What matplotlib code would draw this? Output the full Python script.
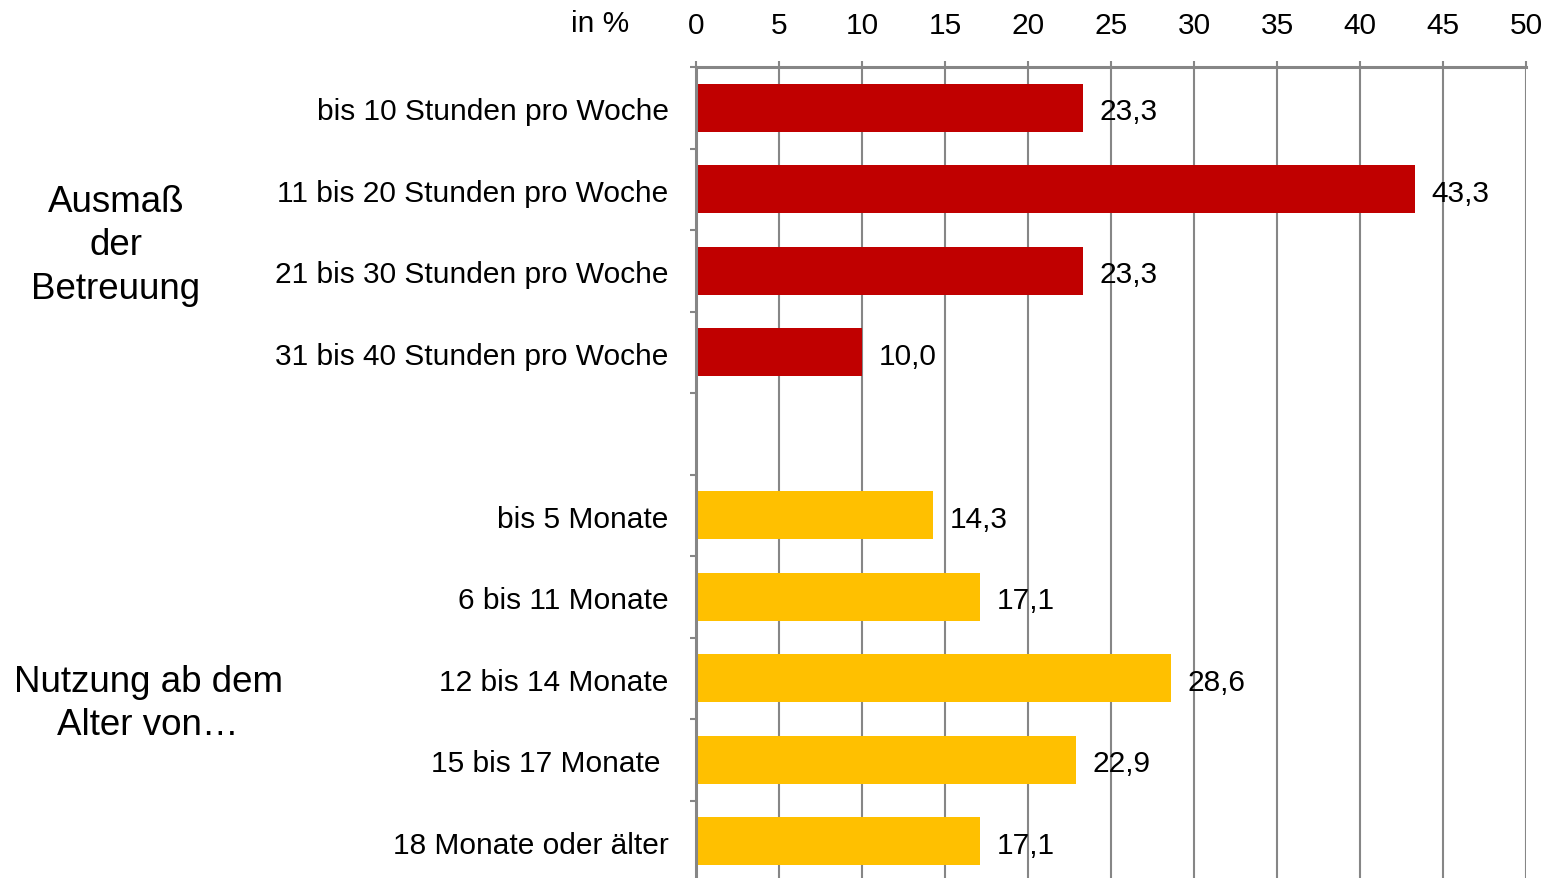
import matplotlib
matplotlib.use("Agg")
import matplotlib.pyplot as plt
import numpy as np

plt.rcParams['font.family'] = ['Liberation Sans', 'DejaVu Sans']

# Betreuungsumfang (Stunden pro Woche)
hours_labels = ["bis 10 Stunden pro Woche", "11 bis 20 Stunden pro Woche",
                "21 bis 30 Stunden pro Woche", "31 bis 40 Stunden pro Woche"]
hours_values = [23.3, 43.3, 23.3, 10.0]

# Alter bei Beginn der Nutzung
age_labels = ["bis 5 Monate", "6 bis 11 Monate", "12 bis 14 Monate",
              "15 bis 17 Monate ", "18 Monate oder älter"]
age_values = [14.3, 17.1, 28.6, 22.9, 17.1]

x_ticks = [0, 5, 10, 15, 20, 25, 30, 35, 40, 45, 50]

RED = "#C00000"
YELLOW = "#FFC000"
GRAY = "#868686"
FS = 21.5

fig = plt.figure(figsize=(15.5, 8.79), dpi=100)
W, H = 1550, 879
ax = fig.add_axes([696 / W, 0, (1526 - 696) / W, 1 - 68 / H])

labels = hours_labels + [""] + age_labels
values = hours_values + [None] + age_values
colors = [RED] * len(hours_values) + [None] + [YELLOW] * len(age_values)

for i, (v, c) in enumerate(zip(values, colors)):
    if v is None:
        continue
    ax.barh(i, v, height=0.59, color=c, zorder=3)
    ax.text(v + 1.0, i + 0.04, f"{v:.1f}".replace(".", ","), va="center",
            ha="left", fontsize=FS, color="black", zorder=4)

for i, lab in enumerate(labels):
    if lab:
        ax.text(-1.65, i + 0.04, lab, va="center", ha="right", fontsize=FS,
                color="black")

ax.set_xlim(0, 50)
ax.set_ylim(9.45, -0.5)
ax.xaxis.tick_top()
ax.set_xticks(x_ticks)
ax.set_xticklabels([str(t) for t in x_ticks])
ax.tick_params(axis="x", which="major", length=4.5, width=1.5, color=GRAY,
               pad=16, labelsize=FS, direction="out")
ax.set_yticks(np.arange(-0.5, 9.5, 1.0))
ax.set_yticklabels([])
ax.tick_params(axis="y", which="major", length=4.5, width=1.5, color=GRAY,
               direction="out")

ax.grid(axis="x", color=GRAY, linewidth=1.5, zorder=1)
for side in ["right", "bottom"]:
    ax.spines[side].set_visible(False)
for side in ["top", "left"]:
    ax.spines[side].set_color(GRAY)
    ax.spines[side].set_linewidth(2.2)
    ax.spines[side].set_zorder(5)

fig.text(600 / W, 1 - 24 / H, "in %", ha="center", va="center", fontsize=FS)

fig.text(116 / W, 1 - 246 / H, "Ausmaß\nder\nBetreuung", ha="center",
         va="center", fontsize=26.5, linespacing=1.32)
fig.text(148 / W, 1 - 704 / H, "Nutzung ab dem\nAlter von…", ha="center",
         va="center", fontsize=26.5, linespacing=1.32)

fig.savefig("out.png", dpi=100)
